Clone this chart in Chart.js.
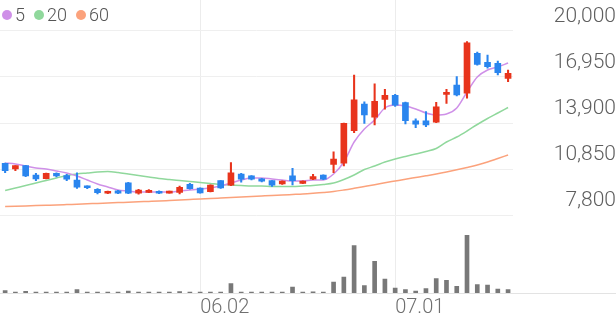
<!DOCTYPE html>
<html>
<head>
<meta charset="utf-8">
<script src="https://cdn.jsdelivr.net/npm/chart.js@4.4.1/dist/chart.umd.min.js"></script>
<style>
html, body { margin: 0; padding: 0; background: #fff; }
#wrap { position: relative; width: 616px; height: 321px; }
#legend { position: absolute; left: 2px; top: 5px; display: flex; align-items: center; font: 300 18px Roboto, sans-serif; color: #555; }
#legend .dot { width: 10px; height: 10px; border-radius: 50%; margin-right: 3px; }
#legend .t { margin-right: 9px; line-height: 20px; }
</style>
</head>
<body>
<div id="wrap">
  <canvas id="chart" width="616" height="321"></canvas>
  <div id="legend"></div>
</div>
<script>
const dates = ['05.02','05.07','05.08','05.09','05.12','05.13','05.14','05.15','05.16','05.19',
  '05.20','05.21','05.22','05.23','05.26','05.27','05.28','05.29','05.30','06.02',
  '06.04','06.05','06.09','06.10','06.11','06.12','06.13','06.16','06.17','06.18',
  '06.19','06.20','06.23','06.24','06.25','06.26','06.27','06.30','07.01','07.02',
  '07.03','07.04','07.07','07.08','07.09','07.10','07.11','07.14','07.15','07.16']
const dateTicks = ['06.02', '07.01']
const priceTicks = [7800, 10850, 13900, 16950, 20000]

const opens  = [11230,10850,11070,10450,10210,10560,10410,10120,9680,9500,
  9240,9410,9940,9240,9300,9370,9250,9300,9840,9590,
  9350,10075,9770,10520,10390,10200,10075,9860,10390,9900,
  10170,10450,11160,11230,13390,15160,14280,15470,15740,15250,
  14050,14050,13950,15800,16420,15870,18520,17920,17860,16860]
const highs  = [11250,11070,11100,10560,10580,10600,10500,10600,9740,9560,
  9380,9430,9960,9500,9480,9400,9390,9720,9900,9600,
  9800,10090,11270,10560,10420,10230,10090,10070,10900,10070,
  10500,10470,11990,13900,17080,15310,16490,16130,15800,15280,
  14180,14650,15270,16130,16970,19290,18600,18410,18010,17410]
const lows   = [10600,10740,10340,10075,10190,10330,10080,9570,9550,9200,
  9220,9220,9220,9180,9280,9220,9240,9190,9520,9240,
  9330,9570,9750,9970,10130,10000,9700,9830,9790,9880,
  10150,10150,10600,11050,13260,13880,13770,14810,15000,13840,
  13590,13650,13930,15200,15690,15540,17730,17530,17080,16640]
const closes = [10740,11070,10390,10190,10560,10390,10170,9640,9610,9280,
  9350,9240,9240,9460,9440,9240,9370,9640,9550,9260,
  9790,9590,10600,10170,10170,10050,9770,10050,10075,10050,
  10340,10170,11500,13880,15430,14430,15340,15740,15090,14050,
  13830,13770,14980,15910,15760,19220,17790,17630,17240,17200]
const volumes = [46000,20000,34000,20000,20000,18000,20000,66000,18000,16000,
  18000,16000,40000,18000,16000,16000,18000,26000,16000,18000,
  16000,18000,186000,20000,18000,16000,18000,16000,120000,20000,
  22000,20000,220000,320000,946000,146000,634000,280000,100000,66000,
  40000,86000,286000,254000,134000,1154000,166000,160000,80000,66000]

const ma5  = [11248,11182,11050,10917,10851,10718,10586,10387,10121,9856,
  9657,9458,9392,9326,9326,9326,9326,9392,9458,9524,
  9591,9723,9922,10121,10254,10254,10187,10121,10055,10055,
  10121,10121,10519,11314,12641,13503,14100,14895,15094,15028,
  14829,14563,14431,14497,14895,15956,16950,17414,17613,17878]
const ma20 = [9425,9591,9757,9922,10088,10254,10420,10519,10585,10652,
  10685,10619,10519,10420,10320,10221,10154,10088,10022,9956,
  9889,9823,9790,9757,9723,9723,9690,9690,9690,9723,
  9757,9823,9922,10154,10453,10817,11049,11315,11514,11679,
  11845,12011,12210,12641,12972,13370,13801,14199,14563,14928]
const ma60 = [8364,8384,8404,8424,8444,8464,8490,8517,8543,8570,
  8596,8623,8649,8676,8702,8729,8762,8795,8828,8861,
  8895,8928,8961,8994,9027,9060,9093,9127,9160,9193,
  9239,9292,9359,9458,9571,9690,9810,9936,10055,10174,
  10287,10400,10519,10652,10797,10950,11116,11314,11547,11779]

const UP = '#e8341c', DOWN = '#2a85ee'
const maLines = [
  { label: '5',  data: ma5,  color: '#cf90e8' },
  { label: '20', data: ma20, color: '#90d89c' },
  { label: '60', data: ma60, color: '#fba27c' },
]

// legend
document.getElementById('legend').innerHTML = maLines.map(m =>
  `<span class="dot" style="background:${m.color}"></span><span class="t">${m.label}</span>`).join('')

const candleColors = closes.map((c, i) => c >= opens[i] ? UP : DOWN)

// full-width separator under the volume bars
const baseline = {
  id: 'baseline',
  afterDraw(chart) {
    const { ctx, chartArea } = chart
    ctx.save()
    ctx.strokeStyle = '#e3e3e3'
    ctx.lineWidth = 1
    ctx.beginPath()
    ctx.moveTo(0, Math.round(chartArea.bottom) + 0.5)
    ctx.lineTo(chart.width, Math.round(chartArea.bottom) + 0.5)
    ctx.stroke()
    ctx.restore()
  }
}

const noPad = s => { s.paddingTop = 0; s.paddingBottom = 0; s.paddingLeft = 0; s.paddingRight = 0 }

new Chart(document.getElementById('chart'), {
  type: 'bar',
  data: {
    labels: dates,
    datasets: [
      ...maLines.map(m => ({
        type: 'line', label: m.label, data: m.data, borderColor: m.color, borderWidth: 1.5,
        pointRadius: 0, cubicInterpolationMode: 'monotone', yAxisID: 'y', order: 2
      })),
      { label: 'body', data: opens.map((o, i) => [o, closes[i]]), backgroundColor: candleColors,
        barThickness: 6, minBarLength: 2, grouped: false, yAxisID: 'y', order: 0 },
      { label: 'wick', data: lows.map((l, i) => [l, highs[i]]), backgroundColor: candleColors,
        barThickness: 1.4, grouped: false, yAxisID: 'y', order: 1 },
      { label: 'vol', data: volumes, backgroundColor: '#787878',
        barThickness: 4, minBarLength: 1, grouped: false, yAxisID: 'yv', order: 3 },
    ]
  },
  options: {
    responsive: false,
    animation: false,
    layout: { padding: 0 },
    plugins: { legend: { display: false }, tooltip: { enabled: false } },
    scales: {
      x: {
        offset: true,
        grid: { offset: false, drawTicks: false,
          color: c => dateTicks.includes(dates[c.index]) ? '#ececec' : 'rgba(0,0,0,0)' },
        border: { display: false },
        ticks: { autoSkip: false, maxRotation: 0, align: 'start', padding: 3, color: '#6f6f6f',
          font: { family: 'Roboto', size: 20, weight: '300' },
          callback: (v, i) => dateTicks.includes(dates[i]) ? dates[i] : '' },
        afterFit: s => { s.height = 28; noPad(s) }
      },
      y: {
        position: 'right', min: 2629, max: 22055,
        afterBuildTicks: s => { s.ticks = priceTicks.map(v => ({ value: v })) },
        grid: { drawTicks: false, color: '#efefef' },
        border: { display: false },
        ticks: { crossAlign: 'far', padding: 34, labelOffset: -14, color: '#5f5f5f',
          font: { family: 'Roboto', size: 21, weight: '300' },
          callback: v => v.toLocaleString('en-US') },
        afterFit: s => { s.width = 102.8; noPad(s) }
      },
      yv: { display: false, min: 0, max: 5860000 }
    }
  },
  plugins: [baseline]
})
</script>
</body>
</html>
